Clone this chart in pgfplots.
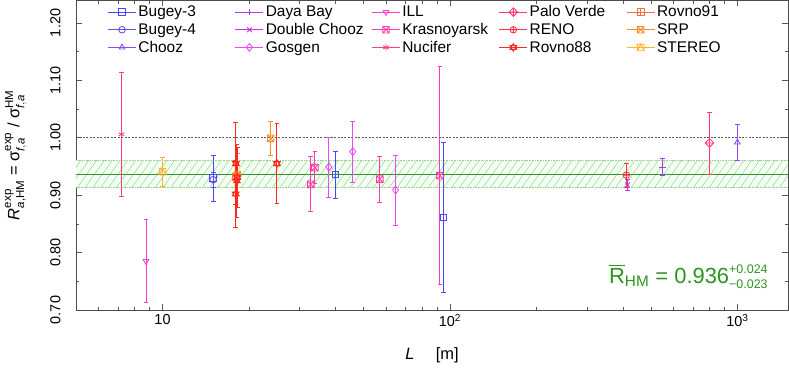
\documentclass[border=0pt]{standalone}
\usepackage{fontspec}
\setmainfont{Liberation Sans}
\usepackage{amsmath}
\usepackage{pgfplots}
\pgfplotsset{compat=1.18}

\definecolor{cBugeyIII}{RGB}{70,70,255}
\definecolor{cBugeyIV}{RGB}{110,70,240}
\definecolor{cChooz}{RGB}{150,70,250}
\definecolor{cDaya}{RGB}{170,60,240}
\definecolor{cDC}{RGB}{200,50,230}
\definecolor{cGosgen}{RGB}{240,70,240}
\definecolor{cILL}{RGB}{255,60,210}
\definecolor{cKras}{RGB}{255,60,170}
\definecolor{cNucifer}{RGB}{255,60,130}
\definecolor{cPV}{RGB}{255,60,110}
\definecolor{cRENO}{RGB}{255,50,70}
\definecolor{cRovIIX}{RGB}{255,40,30}
\definecolor{cRovIXI}{RGB}{255,110,60}
\definecolor{cSRP}{RGB}{255,140,40}
\definecolor{cSTEREO}{RGB}{255,180,40}
\definecolor{grn}{RGB}{40,150,30}
\definecolor{grnline}{RGB}{50,150,40}
\definecolor{hatch}{RGB}{150,210,140}

\pgfdeclareplotmark{boxx}{%
  \pgfpathrectangle{\pgfpoint{-\pgfplotmarksize}{-\pgfplotmarksize}}{\pgfpoint{2\pgfplotmarksize}{2\pgfplotmarksize}}%
  \pgfpathmoveto{\pgfpoint{-\pgfplotmarksize}{-\pgfplotmarksize}}\pgfpathlineto{\pgfpoint{\pgfplotmarksize}{\pgfplotmarksize}}%
  \pgfpathmoveto{\pgfpoint{-\pgfplotmarksize}{\pgfplotmarksize}}\pgfpathlineto{\pgfpoint{\pgfplotmarksize}{-\pgfplotmarksize}}%
  \pgfusepathqstroke}
\pgfdeclareplotmark{boxplus}{%
  \pgfpathrectangle{\pgfpoint{-\pgfplotmarksize}{-\pgfplotmarksize}}{\pgfpoint{2\pgfplotmarksize}{2\pgfplotmarksize}}%
  \pgfpathmoveto{\pgfpoint{-\pgfplotmarksize}{0pt}}\pgfpathlineto{\pgfpoint{\pgfplotmarksize}{0pt}}%
  \pgfpathmoveto{\pgfpoint{0pt}{\pgfplotmarksize}}\pgfpathlineto{\pgfpoint{0pt}{-\pgfplotmarksize}}%
  \pgfusepathqstroke}
\pgfdeclareplotmark{boxtri}{%
  \pgfpathrectangle{\pgfpoint{-\pgfplotmarksize}{-\pgfplotmarksize}}{\pgfpoint{2\pgfplotmarksize}{2\pgfplotmarksize}}%
  \pgfpathmoveto{\pgfpoint{0pt}{\pgfplotmarksize}}\pgfpathlineto{\pgfpoint{-\pgfplotmarksize}{-\pgfplotmarksize}}%
  \pgfpathlineto{\pgfpoint{\pgfplotmarksize}{-\pgfplotmarksize}}\pgfpathclose
  \pgfusepathqstroke}
\pgfdeclareplotmark{diamondplus}{%
  \pgfpathmoveto{\pgfpoint{0pt}{1.3\pgfplotmarksize}}\pgfpathlineto{\pgfpoint{1.3\pgfplotmarksize}{0pt}}%
  \pgfpathlineto{\pgfpoint{0pt}{-1.3\pgfplotmarksize}}\pgfpathlineto{\pgfpoint{-1.3\pgfplotmarksize}{0pt}}\pgfpathclose
  \pgfpathmoveto{\pgfpoint{-1.3\pgfplotmarksize}{0pt}}\pgfpathlineto{\pgfpoint{1.3\pgfplotmarksize}{0pt}}%
  \pgfpathmoveto{\pgfpoint{0pt}{1.3\pgfplotmarksize}}\pgfpathlineto{\pgfpoint{0pt}{-1.3\pgfplotmarksize}}%
  \pgfusepathqstroke}
\pgfdeclareplotmark{hexagram}{%
  \pgfpathmoveto{\pgfpointpolar{90}{1.2\pgfplotmarksize}}\pgfpathlineto{\pgfpointpolar{210}{1.2\pgfplotmarksize}}%
  \pgfpathlineto{\pgfpointpolar{330}{1.2\pgfplotmarksize}}\pgfpathclose
  \pgfpathmoveto{\pgfpointpolar{270}{1.2\pgfplotmarksize}}\pgfpathlineto{\pgfpointpolar{30}{1.2\pgfplotmarksize}}%
  \pgfpathlineto{\pgfpointpolar{150}{1.2\pgfplotmarksize}}\pgfpathclose
  \pgfusepathqstroke}

\pgfplotsset{
  pt/.style={only marks, mark size=3.3bp, line width=0.85pt,
    mark options={solid, line width=0.85pt},
    error bars/y dir=both, error bars/y explicit,
    error bars/error bar style={line width=0.95pt},
    error bars/error mark options={rotate=90, mark size=2.4bp, line width=0.8pt}},
}

\begin{document}
\begin{tikzpicture}
\path[use as bounding box] (-76bp,-60bp) rectangle (713bp,310bp);
\begin{axis}[
  at={(0,0)}, anchor=south west,
  scale only axis, width=712bp, height=310bp,
  xmode=log, xmin=5, xmax=1500, ymin=0.70, ymax=1.24,
  xtick={10,100,1000}, xticklabels={10,10\textsuperscript{2},10\textsuperscript{3}},
  minor xtick={6,7,8,9,20,30,40,50,60,70,80,90,200,300,400,500,600,700,800,900},
  ytick={0.7,0.8,0.9,1.0,1.1,1.2}, minor ytick={0.75,0.85,0.95,1.05,1.15},
  tick align=inside, major tick length=6bp, minor tick length=3.5bp,
  tick style={gray!70!black, line width=0.6pt},
  axis line style={gray!60!black, line width=0.9pt},
  /pgf/number format/assume math mode=true,
  yticklabel style={xshift=-12bp, rotate=90, anchor=south, /pgf/number format/fixed, /pgf/number format/fixed zerofill, /pgf/number format/precision=2},
  xticklabel style={yshift=-1bp},
  font=\fontsize{14.5}{16}\selectfont,
  xlabel={\textit{L}\hspace{1.3em}[m]},
  xlabel style={font=\fontsize{16.5}{18}\selectfont, at={(axis description cs:0.5,-0.145)}, anchor=center},
  ylabel={$\textit{R}^{\text{exp}}_{\textit{a}\text{,HM}}\text{ = }\text{σ}^{\text{exp}}_{\textit{f},\textit{a}}\text{ / }\text{σ}^{\text{HM}}_{\textit{f},\textit{a}}$},
  ylabel style={font=\fontsize{16.5}{18}\selectfont, at={(axis description cs:-0.064,0.5)}, anchor=south},
  legend columns=5,
  legend cell align=left,
  legend style={at={(0.040,0.995)}, anchor=north west, draw=none, fill=none,
    font=\fontsize{15.5}{16}\selectfont, row sep=1pt,
    /tikz/every even column/.append style={column sep=6pt}},
  legend image code/.code={\draw (0pt,0pt) -- (28pt,0pt); \draw plot coordinates {(14pt,0pt)};},
]
% 1-sigma band: light fill, hatching, dotted edges
\addplot[forget plot, draw=none, fill=green!5] coordinates {(5,0.913) (1500,0.913) (1500,0.960) (5,0.960)} -- cycle;
\begin{scope}
\clip (axis cs:5,0.913) rectangle (axis cs:1500,0.960);
\pgfplotsinvokeforeach{0,...,94}{
  \draw[hatch, line width=0.45pt] ([xshift={#1*7.8bp-30bp}]axis cs:5,0.913) -- ++(22bp,31bp);
}
\end{scope}
\addplot[forget plot, hatch, densely dotted, line width=0.6pt] coordinates {(5,0.913) (1500,0.913)};
\addplot[forget plot, hatch, densely dotted, line width=0.6pt] coordinates {(5,0.960) (1500,0.960)};
\addplot[forget plot, grnline, line width=1pt] coordinates {(5,0.936) (1500,0.936)};
\addplot[forget plot, gray!70!black, dash pattern=on 2pt off 1.5pt, line width=0.6pt] coordinates {(5,1) (1500,1)};

% row 1
\addplot[pt, cBugeyIII, mark=square] coordinates {(15,0.930) +- (0,0.040) (40,0.936) +- (0,0.041) (95,0.861) +- (0,0.131)};
\addlegendentry{\makebox[89pt][l]{Bugey-3}}
\addplot[pt, cDaya, mark=+] coordinates {(550,0.949) +- (0,0.015)};
\addlegendentry{\makebox[89pt][l]{Daya Bay}}
\addplot[pt, cILL, mark=triangle, mark options={rotate=180}] coordinates {(8.76,0.785) +- (0,0.072)};
\addlegendentry{\makebox[89pt][l]{ILL}}
\addplot[pt, cPV, mark=diamondplus] coordinates {(800,0.991) +- (0,0.054)};
\addlegendentry{\makebox[89pt][l]{Palo Verde}}
\addplot[pt, cRovIXI, mark=boxplus] coordinates {(18.0,0.932) +- (0,0.027)};
\addlegendentry{\makebox[89pt][l]{Rovno91}}
% row 2
\addplot[pt, cBugeyIV, mark=o] coordinates {(15,0.927) +- (0,0.013)};
\addlegendentry{Bugey-4}
\addplot[pt, cDC, mark=x] coordinates {(415,0.918) +- (0,0.010)};
\addlegendentry{Double Chooz}
\addplot[pt, cKras, mark=boxx] coordinates {(32.8,0.919) +- (0,0.048) (33.9,0.948) +- (0,0.028) (57.0,0.928) +- (0,0.040) (92.3,0.934) +- (0,0.190)};
\addlegendentry{Krasnoyarsk}
\addplot[pt, cRENO, mark=oplus] coordinates {(411,0.935) +- (0,0.021)};
\addlegendentry{RENO}
\addplot[pt, cSRP, mark=boxx] coordinates {(18.2,0.936) +- (0,0.037) (23.8,0.999) +- (0,0.029)};
\addlegendentry{SRP}
% row 3
\addplot[pt, cChooz, mark=triangle] coordinates {(1000,0.992) +- (0,0.032)};
\addlegendentry{Chooz}
\addplot[pt, cGosgen, mark=diamond, mark size=4bp] coordinates {(37.9,0.949) +- (0,0.052) (45.9,0.976) +- (0,0.053) (64.7,0.909) +- (0,0.061)};
\addlegendentry{Gosgen}
\addplot[pt, cNucifer, mark=asterisk] coordinates {(7.2,1.006) +- (0,0.108)};
\addlegendentry{Nucifer}
\addplot[pt, cRovIIX, mark=hexagram] coordinates {(18.0,0.955) +- (0,0.071) (17.96,0.902) +- (0,0.058) (18.15,0.925) +- (0,0.064) (18.18,0.931) +- (0,0.052) (25.0,0.955) +- (0,0.070)};
\addlegendentry{Rovno88}
\addplot[pt, cSTEREO, mark=boxtri] coordinates {(10.0,0.941) +- (0,0.025)};
\addlegendentry{STEREO}

\node[anchor=base east, text=grn, font=\fontsize{22}{24}\selectfont] at (rel axis cs:0.977,0.087)
  {$\overline{\text{R}}_{\text{HM}}\text{ = 0.936}^{\mbox{\fontsize{12.5}{13}\selectfont +0.024}}_{\mbox{\fontsize{12.5}{13}\selectfont −0.023}}$};
\end{axis}
\end{tikzpicture}
\end{document}
